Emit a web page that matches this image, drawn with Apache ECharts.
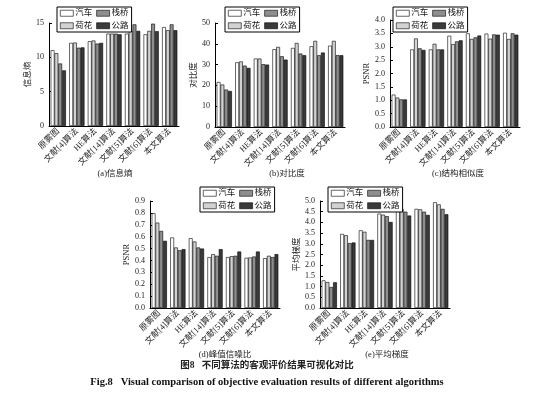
<!DOCTYPE html>
<html><head><meta charset="utf-8">
<script src="https://cdn.jsdelivr.net/npm/echarts@6/dist/echarts.min.js"></script>
<style>html,body{margin:0;padding:0;background:#fff}#c{width:534px;height:393px}</style>
</head><body><div id="c"></div>
<script>
const categories = ['原雾图','文献[4]算法','HE算法','文献[14]算法','文献[5]算法','文献[6]算法','本文算法'];
const seriesNames = ['汽车','荷花','栈桥','公路'];
const legendOrder = ['汽车','栈桥','荷花','公路'];

// (a) 信息熵
const entropyCar    = [11.05, 12.1, 12.35, 13.45, 13.45, 13.35, 14.4];
const entropyLotus  = [10.6, 12.15, 12.45, 13.45, 13.85, 13.85, 13.95];
const entropyPier   = [9.1, 11.4, 12.0, 13.45, 14.8, 14.9, 14.8];
const entropyRoad   = [8.1, 11.45, 12.1, 13.35, 13.85, 13.8, 13.95];
// (b) 对比度
const contrastCar   = [21.6, 31.1, 32.9, 37.4, 38.0, 38.8, 39.1];
const contrastLotus = [20.4, 31.5, 32.9, 38.5, 40.4, 41.4, 41.4];
const contrastPier  = [18.0, 29.5, 30.2, 34.0, 35.3, 34.5, 34.5];
const contrastRoad  = [17.3, 28.4, 30.0, 32.4, 34.5, 35.8, 34.5];
// (c) 结构相似度
const ssimCar   = [1.21, 2.90, 2.90, 3.41, 3.50, 3.49, 3.52];
const ssimLotus = [1.10, 3.31, 3.11, 3.10, 3.29, 3.30, 3.29];
const ssimPier  = [1.03, 2.94, 2.90, 3.20, 3.35, 3.46, 3.50];
const ssimRoad  = [1.03, 2.88, 2.90, 3.24, 3.42, 3.45, 3.45];
// (d) 峰值信噪比
const psnrCar   = [0.797, 0.593, 0.587, 0.428, 0.428, 0.422, 0.419];
const psnrLotus = [0.718, 0.509, 0.559, 0.453, 0.436, 0.425, 0.439];
const psnrPier  = [0.648, 0.486, 0.509, 0.439, 0.439, 0.433, 0.428];
const psnrRoad  = [0.565, 0.495, 0.500, 0.495, 0.475, 0.475, 0.453];
// (e) 平均梯度
const gradCar   = [1.29, 3.46, 3.63, 4.41, 4.63, 4.63, 4.94];
const gradLotus = [1.21, 3.40, 3.56, 4.36, 4.63, 4.61, 4.84];
const gradPier  = [0.98, 3.03, 3.18, 4.29, 4.50, 4.50, 4.63];
const gradRoad  = [1.20, 3.06, 3.18, 4.02, 4.32, 4.35, 4.38];

const panelTitles = ['(a)信息熵','(b)对比度','(c)结构相似度','(d)峰值信噪比','(e)平均梯度'];
const yNames = ['信息熵','对比度','PSNR','PSNR','平均梯度'];
const yMax = [15, 50, 4.0, 0.9, 5.0];
const yInterval = [5, 10, 0.5, 0.1, 0.5];
const panelData = [
  [entropyCar, entropyLotus, entropyPier, entropyRoad],
  [contrastCar, contrastLotus, contrastPier, contrastRoad],
  [ssimCar, ssimLotus, ssimPier, ssimRoad],
  [psnrCar, psnrLotus, psnrPier, psnrRoad],
  [gradCar, gradLotus, gradPier, gradRoad]
];

const colors = ['#ffffff','#d2d2d2','#8e8e8e','#3a3a3a'];
const FONT = "'Liberation Serif','Noto Sans CJK SC',serif";
const grids = [
  {left:49, top:23, width:130, height:103},
  {left:215, top:23, width:130, height:104},
  {left:390, top:20, width:130, height:107},
  {left:150, top:201, width:130, height:107},
  {left:320, top:201, width:130, height:107}
];
const legendPos = [
  {left:57, top:7}, {left:225, top:7}, {left:393, top:7}, {left:200, top:187}, {left:328, top:187}
];
const titlePos = [
  {x:110, y:165}, {x:282, y:165}, {x:453, y:165}, {x:220, y:346}, {x:382, y:346}
];
const nameGaps = [16, 16, 18, 18, 18];
const yFmt = [v=>String(v), v=>String(v), v=>v.toFixed(1), v=>v.toFixed(1), v=>v.toFixed(1)];

const xAxis = [], yAxis = [], series = [], legend = [], title = [];
for (let i = 0; i < 5; i++) {
  xAxis.push({
    type:'category', gridIndex:i, data:categories,
    axisLine:{lineStyle:{color:'#000', width:1}}, axisTick:{show:false},
    axisLabel:{rotate:45, fontSize:8.5, color:'#222', fontFamily:FONT, margin:4, interval:0}
  });
  yAxis.push({
    type:'value', gridIndex:i, min:0, max:yMax[i], interval:yInterval[i],
    name:yNames[i], nameLocation:'middle', nameGap:nameGaps[i],
    nameTextStyle:{fontSize:8.5, color:'#222', fontFamily:FONT},
    axisLine:{show:true, lineStyle:{color:'#000', width:1}},
    axisTick:{show:true, inside:true, length:3, lineStyle:{color:'#000'}},
    splitLine:{show:false},
    axisLabel:{fontSize:8, color:'#222', fontFamily:FONT, margin:5, formatter:yFmt[i]}
  });
  for (let s = 0; s < 4; s++) {
    series.push({
      type:'bar', name:seriesNames[s], xAxisIndex:i, yAxisIndex:i,
      data:panelData[i][s], barGap:'0%', barCategoryGap:'18%',
      itemStyle:{color:colors[s], borderColor:'#000', borderWidth:0.6},
      emphasis:{disabled:true}, animation:false
    });
  }
  legend.push({
    data:legendOrder, left:legendPos[i].left, top:legendPos[i].top, width:76,
    orient:'horizontal', itemWidth:13, itemHeight:6, itemGap:4,
    padding:[2,3,2,3], borderColor:'#000', borderWidth:1, backgroundColor:'#fff',
    textStyle:{fontSize:8.5, color:'#111', fontFamily:FONT, padding:[0,0,0,-3]},
    icon:'rect', selectedMode:false,
    itemStyle:{borderColor:'#000', borderWidth:0.6}
  });
  title.push({
    text:panelTitles[i], left:titlePos[i].x, top:titlePos[i].y, textAlign:'center',
    textStyle:{fontSize:8.5, fontWeight:'normal', color:'#222', fontFamily:FONT}
  });
}

const chart = echarts.init(document.getElementById('c'), null, {renderer:'canvas'});
chart.setOption({
  backgroundColor:'#fff', animation:false,
  grid:grids, xAxis, yAxis, series, legend, title,
  graphic:[
    {type:'text', left:'center', top:361, style:{text:'图8   不同算法的客观评价结果可视化对比', fontSize:9.5, fontWeight:'bold', fill:'#222', fontFamily:FONT}},
    {type:'text', left:'center', top:377, style:{text:'Fig.8   Visual comparison of objective evaluation results of different algorithms', fontSize:10.5, fontWeight:'bold', fill:'#111', fontFamily:FONT}}
  ]
});
</script></body></html>
